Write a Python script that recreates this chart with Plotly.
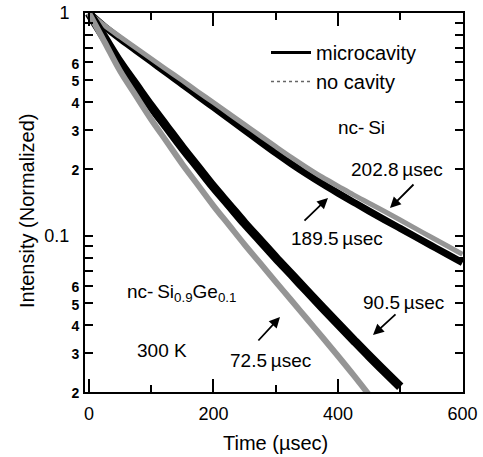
import plotly.graph_objects as go

# ---- data ----
t_si = [0, 25, 50, 75, 100, 125, 150, 175, 200, 225, 250, 275, 300, 325, 350, 375, 400,
        425, 450, 475, 500, 525, 550, 575, 600]
si_cavity = [1.0, 0.869, 0.767, 0.682, 0.606, 0.538, 0.479, 0.425, 0.378, 0.336, 0.2985, 0.265,
             0.2357, 0.2108, 0.1896, 0.1715, 0.1558, 0.1419, 0.1294, 0.1182, 0.1082, 0.099,
             0.0906, 0.083, 0.076]
si_nocavity = [1.0, 0.878, 0.782, 0.699, 0.624, 0.557, 0.498, 0.444, 0.397, 0.354, 0.316, 0.282,
               0.252, 0.2255, 0.2029, 0.1835, 0.1675, 0.153, 0.1404, 0.1288, 0.118, 0.108,
               0.0988, 0.0905, 0.0828]

t_sige_cav = [0, 25, 50, 75, 100, 125, 150, 175, 200, 225, 250, 275, 300, 325, 350, 375, 400,
              425, 450, 475, 500]
sige_cavity = [1.0, 0.773, 0.598, 0.477, 0.381, 0.308, 0.249, 0.2034, 0.166, 0.1377, 0.114,
               0.0956, 0.080, 0.0674, 0.0567, 0.0478, 0.0404, 0.0342, 0.029, 0.0247, 0.0211]
t_sige_no = [0, 25, 50, 75, 100, 125, 150, 175, 200, 225, 250, 275, 300, 325, 350, 375, 400,
             425, 450]
sige_nocavity = [1.0, 0.741, 0.549, 0.427, 0.333, 0.2645, 0.21, 0.1695, 0.1367, 0.1119, 0.0916,
                 0.0756, 0.0623, 0.0516, 0.0426, 0.0352, 0.029, 0.0238, 0.0194]

x_major = [0, 200, 400, 600]
x_minor = [100, 300, 500]
y_major = [0.02, 0.03, 0.04, 0.05, 0.06, 0.1, 0.2, 0.3, 0.4, 0.5, 0.6, 1]
y_major_text = ["2", "3", "4", "5", "6", "0.1", "2", "3", "4", "5", "6", "1"]
y_minor = [0.07, 0.08, 0.09, 0.7, 0.8, 0.9]

BLACK = "#000000"
GRAY = "#959595"
FONT = "Liberation Sans, Arial, sans-serif"

W, H = 483, 457
L, R, T, B = 85, 20, 13, 65
pw, ph = W - L - R, H - T - B

fig = go.Figure()
fig.add_trace(go.Scatter(x=t_si, y=si_cavity, mode="lines", line=dict(color=BLACK, width=7, shape="spline"), showlegend=False))
fig.add_trace(go.Scatter(x=t_si, y=si_nocavity, mode="lines", line=dict(color=GRAY, width=5, shape="spline"), showlegend=False))
fig.add_trace(go.Scatter(x=t_sige_cav, y=sige_cavity, mode="lines", line=dict(color=BLACK, width=9, shape="spline"), showlegend=False))
fig.add_trace(go.Scatter(x=t_sige_no, y=sige_nocavity, mode="lines", line=dict(color=GRAY, width=6, shape="spline"), showlegend=False))

# legend entries
fig.add_trace(go.Scatter(x=[None], y=[None], mode="lines", name="microcavity",
                         line=dict(color=BLACK, width=3)))
fig.add_trace(go.Scatter(x=[None], y=[None], mode="lines", name="no cavity",
                         line=dict(color="#666666", width=1.5, dash="dot")))

ticktext = []
for v, s in zip(y_major, y_major_text):
    if s in ("1", "0.1"):
        ticktext.append(s + "\u00a0\u00a0")
    else:
        ticktext.append("<span style='font-size:14px'><b>" + s + "</b></span>")

fig.update_layout(
    width=W, height=H,
    margin=dict(l=L, r=R, t=T, b=B),
    paper_bgcolor="white", plot_bgcolor="white",
    font=dict(family=FONT, color="black", size=18),
    showlegend=True,
    legend=dict(x=(266 - L) / pw, y=1 - (33 - T) / ph, xanchor="left", yanchor="top",
                bgcolor="rgba(0,0,0,0)", font=dict(size=20), tracegroupgap=0,
                itemwidth=40),
    xaxis=dict(range=[-6.4, 600.8], tickmode="array", tickvals=x_major,
               ticks="inside", ticklen=13, tickwidth=1.5, tickcolor="black",
               showline=True, linecolor="black", linewidth=2, mirror="allticks",
               showgrid=False, zeroline=False, tickfont=dict(size=18), automargin=False,
               ticklabelstandoff=4,
               minor=dict(tickmode="array", tickvals=x_minor, ticks="inside", ticklen=7,
                          tickwidth=1.5, tickcolor="black", showgrid=False)),
    yaxis=dict(type="log", range=[-1.69897, 0], tickmode="array", tickvals=y_major,
               ticktext=ticktext, ticks="inside", ticklen=8, tickwidth=1.5, tickcolor="black",
               showline=True, linecolor="black", linewidth=2, mirror="allticks",
               showgrid=False, zeroline=False, tickfont=dict(size=18), automargin=False,
               minor=dict(tickmode="array", tickvals=y_minor, ticks="inside", ticklen=8,
                          tickwidth=1.5, tickcolor="black", showgrid=False)),
)

def px2paper(px, py):
    return (px - L) / pw, 1 - (py - T) / ph

# axis titles
x0, y0 = px2paper(275, 443)
fig.add_annotation(text="Time (\u00b5sec)", xref="paper", yref="paper", x=x0, y=y0,
                   xanchor="center", yanchor="middle", showarrow=False,
                   font=dict(family=FONT, size=20, color="black"))
x0, y0 = px2paper(27, 211)
fig.add_annotation(text="Intensity (Normalized)", xref="paper", yref="paper", x=x0, y=y0,
                   xanchor="center", yanchor="middle", showarrow=False, textangle=-90,
                   font=dict(family=FONT, size=20, color="black"))

ann_font = dict(family=FONT, size=19, color="black")
texts = [
    ("nc-\u2009Si", 361, 128),
    ("202.8\u2009\u00b5sec", 397, 170),
    ("189.5\u2009\u00b5sec", 337, 238),
    ("90.5\u2009\u00b5sec", 403, 302),
    ("72.5\u2009\u00b5sec", 270, 360),
    ("nc-\u2009Si<sub>0.9</sub>Ge<sub>0.1</sub>", 181, 293),
    ("300 K", 162, 350),
]
for txt, px, py in texts:
    x0, y0 = px2paper(px, py)
    fig.add_annotation(text=txt, xref="paper", yref="paper", x=x0, y=y0,
                       xanchor="center", yanchor="middle", showarrow=False, font=ann_font)

arrows = [  # tip (px,py), tail (px,py)
    ((390, 208), (415, 183)),
    ((328, 198), (303, 222)),
    ((373, 335), (397, 313)),
    ((280, 317), (257, 342)),
]
for (tx, ty), (sx, sy) in arrows:
    x0, y0 = px2paper(tx, ty)
    fig.add_annotation(text="", xref="paper", yref="paper", x=x0, y=y0,
                       ax=sx - tx, ay=sy - ty, axref="pixel", ayref="pixel",
                       showarrow=True, arrowhead=2, arrowsize=1.2, arrowwidth=1.8,
                       arrowcolor="black")

fig.write_html("out.html", config={"displayModeBar": False},
               post_script="document.body.style.margin='0';document.body.style.overflow='hidden';")
